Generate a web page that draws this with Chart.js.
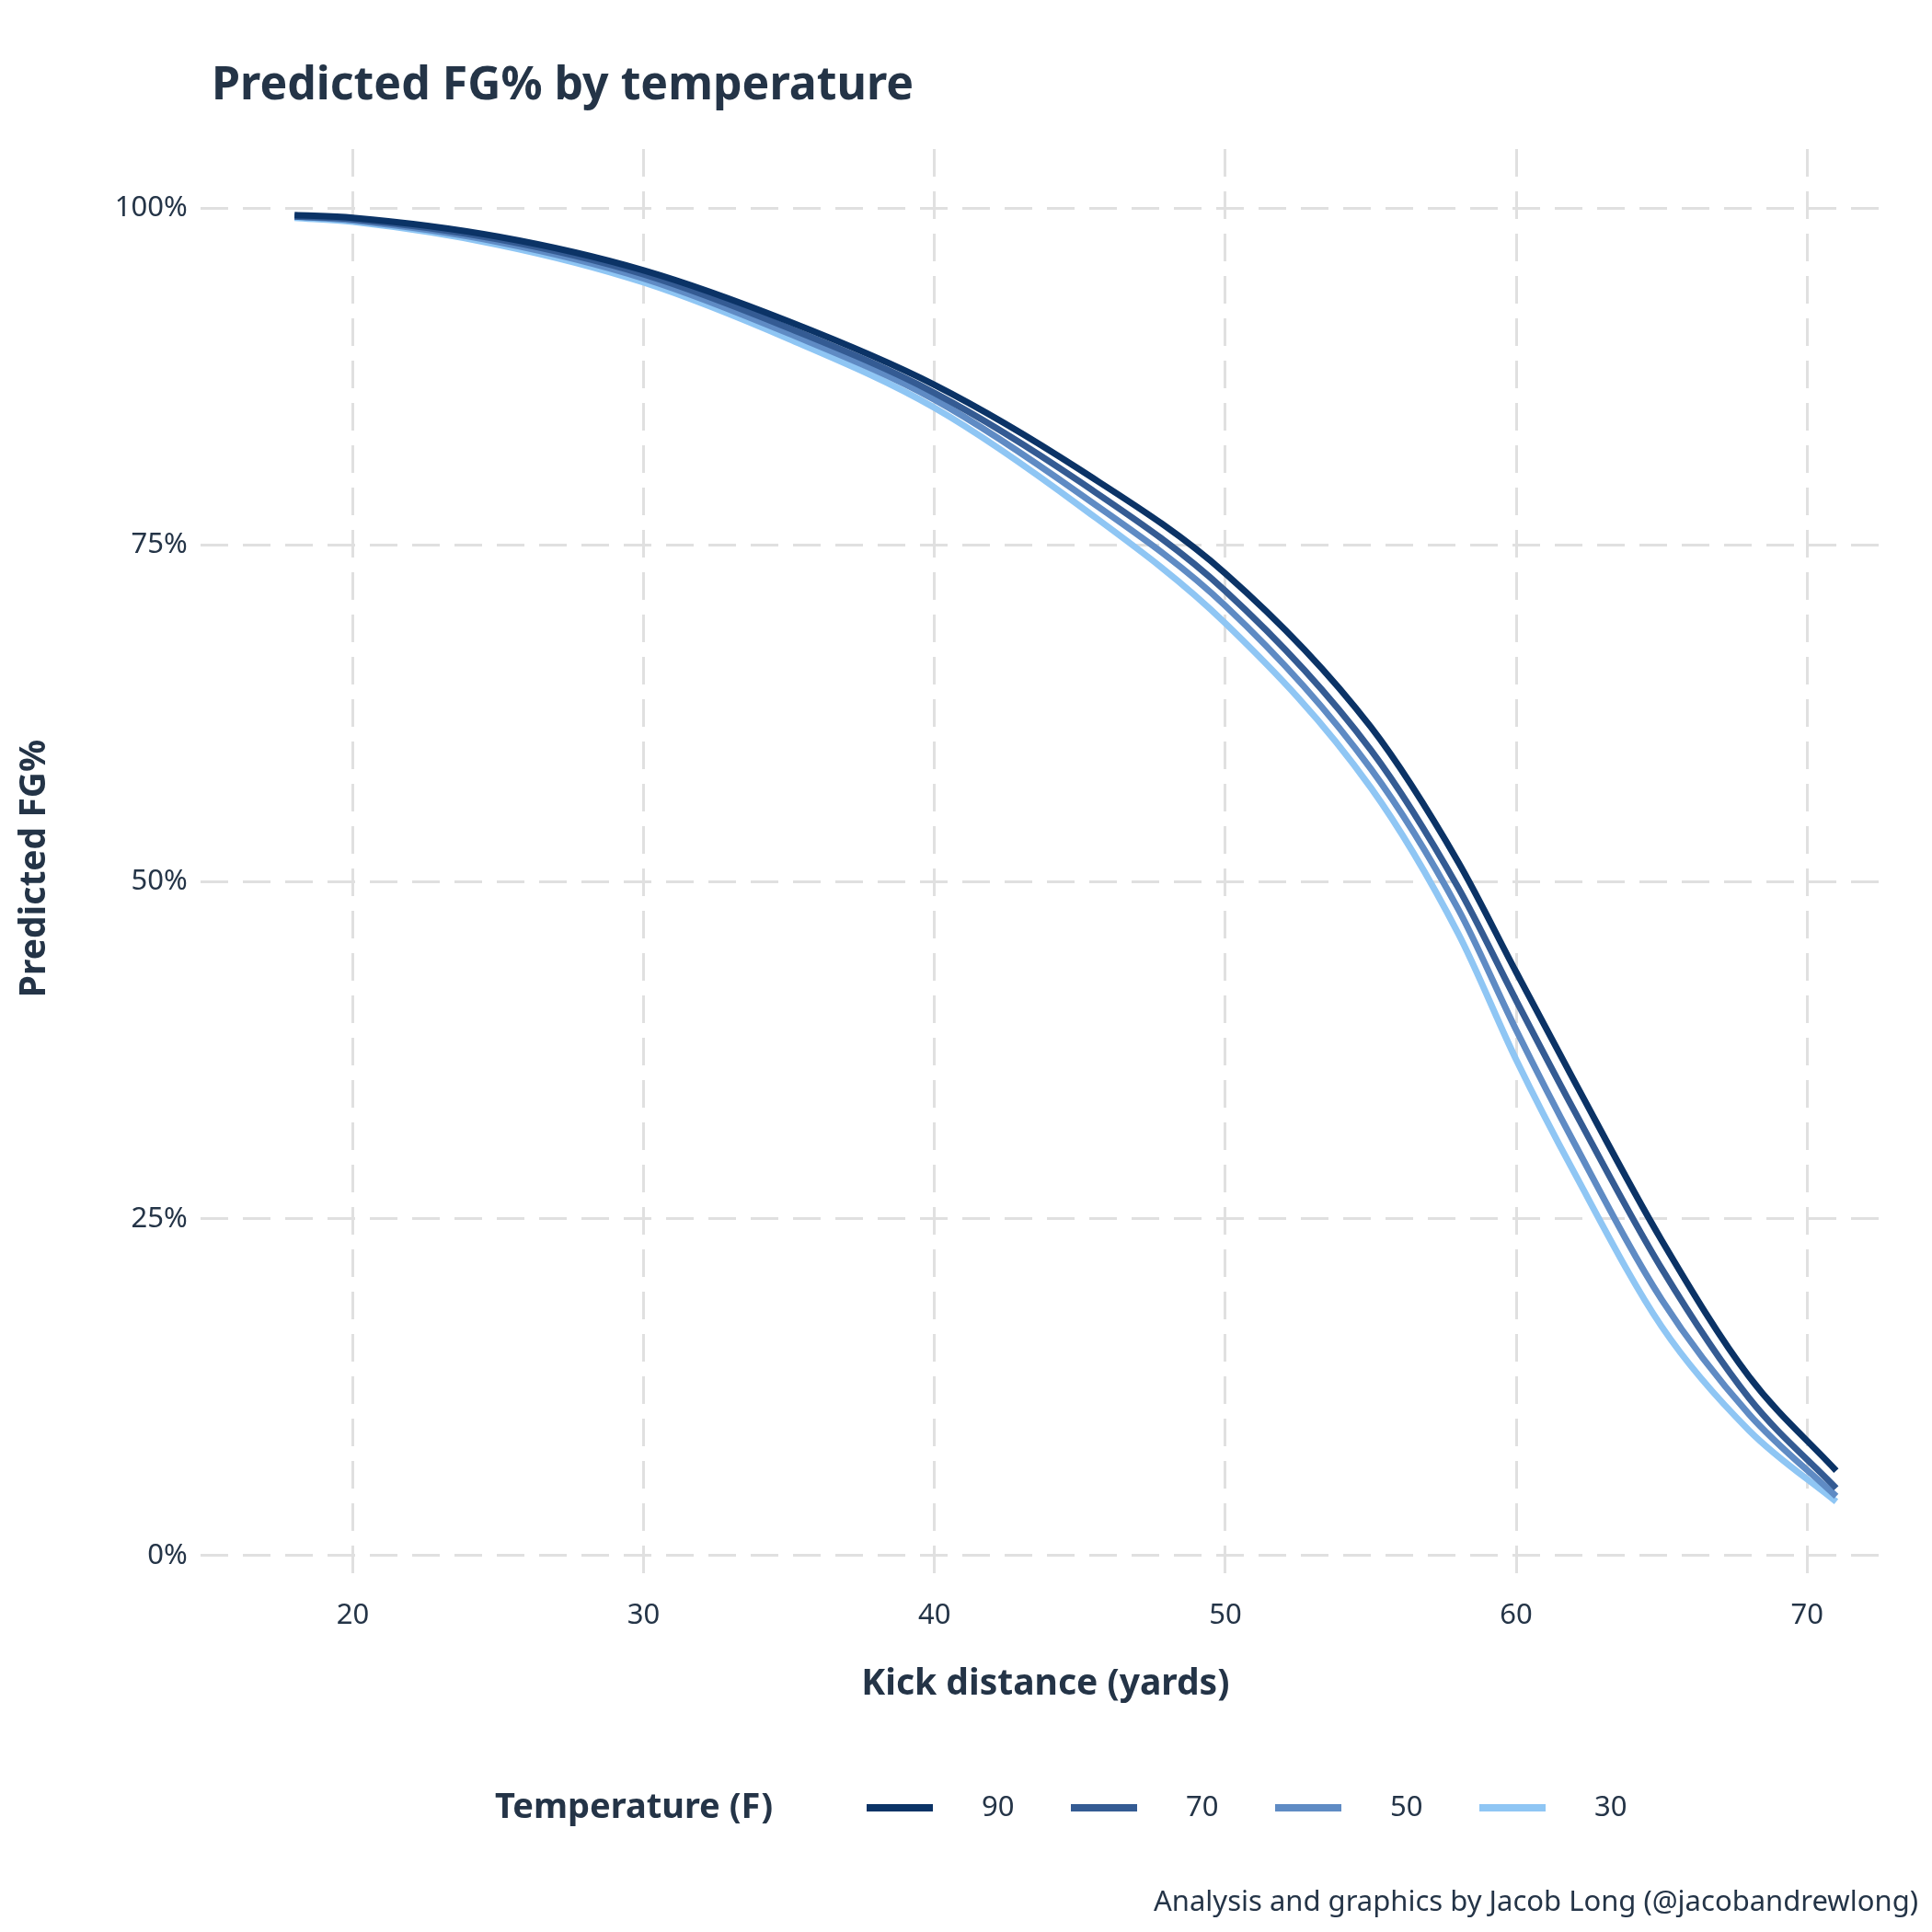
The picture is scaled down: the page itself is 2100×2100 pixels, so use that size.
<!DOCTYPE html>
<html>
<head>
<meta charset="utf-8">
<script src="https://cdn.jsdelivr.net/npm/chart.js@4"></script>
<style>
  html, body { margin: 0; padding: 0; background: #fff; }
  #wrap { width: 2100px; height: 2100px; }
</style>
</head>
<body>
<div id="wrap"><canvas id="fgChart"></canvas></div>
<script>
// kick distance (yards)
const distances = [18, 20, 25, 30, 35, 40, 45, 50, 55, 58, 60, 62, 65, 68, 71];
// predicted FG% for each temperature
const fg90 = [99.5, 99.3, 97.9, 95.4, 91.6, 86.9, 80.6, 72.9, 61.5, 51.5, 43.3, 35.2, 23.4, 13.3, 6.3];
const fg70 = [99.4, 99.2, 97.7, 95.1, 91.1, 86.3, 79.7, 71.6, 59.8, 49.6, 41.2, 33.0, 21.3, 11.7, 5.0];
const fg50 = [99.4, 99.1, 97.5, 94.8, 90.7, 85.8, 78.8, 70.5, 58.4, 48.0, 39.0, 30.6, 19.0, 10.5, 4.4];
const fg30 = [99.3, 99.0, 97.3, 94.5, 90.3, 85.2, 77.9, 69.2, 57.0, 46.2, 36.8, 28.4, 17.0, 9.3, 4.0];
const temps = ['90', '70', '50', '30'];
const colors = ['#0b3366', '#345b93', '#5f8bc4', '#8fc6f4'];
const xTicks = [20, 30, 40, 50, 60, 70];
const yTicks = [0, 25, 50, 75, 100];

const textColor = '#243447';
const fontFam = '"Noto Sans", Roboto, sans-serif';

const series = [fg90, fg70, fg50, fg30];
const datasets = series.map((vals, i) => ({
    label: temps[i],
    data: distances.map((d, j) => ({ x: d, y: vals[j] })),
    borderColor: colors[i],
    backgroundColor: colors[i],
    borderWidth: 7,
    pointRadius: 0,
    cubicInterpolationMode: 'monotone',
    fill: false
}));

// title, legend drawn inline with its title, plus the credit line
const extras = {
    id: 'extras',
    afterDraw(chart) {
        const ctx = chart.ctx;
        ctx.save();
        ctx.textBaseline = 'middle';
        ctx.fillStyle = textColor;
        ctx.textAlign = 'left';
        ctx.font = 'bold 50px ' + fontFam;
        ctx.fillText('Predicted FG% by temperature', 230, 94);

        const y = 1965;
        ctx.font = 'bold 38px ' + fontFam;
        ctx.fillText('Temperature (F)', 538, y);
        ctx.font = '31px ' + fontFam;
        let x = 942;
        chart.data.datasets.forEach(ds => {
            ctx.strokeStyle = ds.borderColor;
            ctx.lineWidth = 8;
            ctx.beginPath();
            ctx.moveTo(x, y);
            ctx.lineTo(x + 72, y);
            ctx.stroke();
            ctx.fillStyle = textColor;
            ctx.fillText(ds.label, x + 125, y);
            x += 222;
        });
        ctx.font = '31px ' + fontFam;
        ctx.textAlign = 'right';
        ctx.fillText('Analysis and graphics by Jacob Long (@jacobandrewlong)', 2085, 2068);
        ctx.restore();
    }
};

new Chart(document.getElementById('fgChart').getContext('2d'), {
    type: 'line',
    data: { datasets: datasets },
    options: {
        responsive: true,
        maintainAspectRatio: false,
        animation: false,
        layout: { padding: { top: 162, left: 10, right: 45, bottom: 242 } },
        plugins: {
            legend: { display: false },
            tooltip: { enabled: false }
        },
        scales: {
            x: {
                type: 'linear',
                min: 14.76,
                max: 72.87,
                afterBuildTicks: s => { s.ticks = xTicks.map(v => ({ value: v })); },
                ticks: { color: textColor, font: { family: fontFam, size: 31 }, padding: 12 },
                grid: { color: '#e0e0e0', lineWidth: 3, drawTicks: false },
                border: { display: false, dash: [30, 16] },
                title: {
                    display: true,
                    text: 'Kick distance (yards)',
                    color: textColor,
                    font: { family: fontFam, size: 39, weight: 'bold' },
                    padding: { top: 20 }
                }
            },
            y: {
                min: -2.4,
                max: 104.4,
                afterBuildTicks: s => { s.ticks = yTicks.map(v => ({ value: v })); },
                ticks: {
                    color: textColor,
                    font: { family: fontFam, size: 31 },
                    padding: 14,
                    callback: v => v + '%'
                },
                grid: { color: '#e0e0e0', lineWidth: 3, drawTicks: false },
                border: { display: false, dash: [30, 16] },
                title: {
                    display: true,
                    text: 'Predicted FG%',
                    color: textColor,
                    font: { family: fontFam, size: 39, weight: 'bold' },
                    padding: { bottom: 50 }
                }
            }
        }
    },
    plugins: [extras]
});
</script>
</body>
</html>
